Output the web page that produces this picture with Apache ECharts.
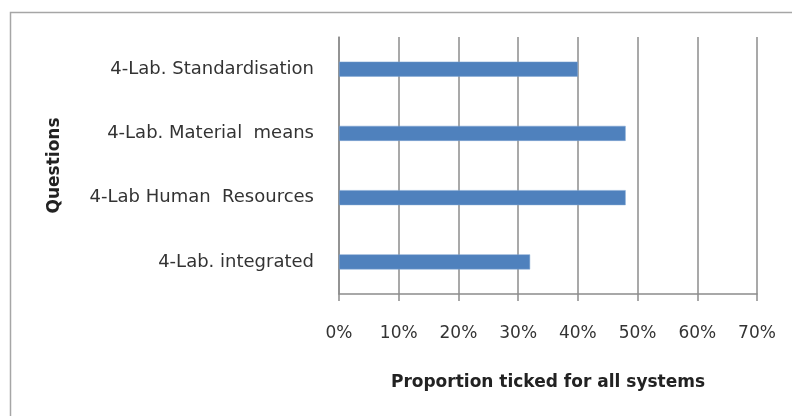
<!DOCTYPE html>
<html>
<head>
<meta charset="utf-8">
<script src="https://cdn.jsdelivr.net/npm/echarts@6/dist/echarts.min.js"></script>
<style>
  html, body { margin: 0; padding: 0; background: #fff; }
  #chart { width: 792px; height: 416px; }
</style>
</head>
<body>
<div id="chart"></div>
<script>
// categories bottom -> top (echarts category y-axis starts at bottom)
var questions = ['4-Lab. integrated', '4-Lab Human  Resources', '4-Lab. Material  means', '4-Lab. Standardisation'];
var proportion = [0.32, 0.48, 0.48, 0.40];
var xTicks = [0, 0.1, 0.2, 0.3, 0.4, 0.5, 0.6, 0.7];

var font = 'DejaVu Sans, sans-serif';
var myChart = echarts.init(document.getElementById('chart'));
var option = {
  animation: false,
  backgroundColor: '#fff',
  graphic: [{
    type: 'rect',
    shape: { x: 10.5, y: 12.5, width: 800, height: 420 },
    style: { fill: 'none', stroke: '#a6a6a6', lineWidth: 1.5 },
    silent: true
  }],
  grid: { left: 339, right: 35, top: 37, bottom: 122 },
  xAxis: {
    type: 'value',
    min: xTicks[0],
    max: xTicks[xTicks.length - 1],
    interval: 0.1,
    name: 'Proportion ticked for all systems',
    nameLocation: 'middle',
    nameGap: 80,
    nameTextStyle: { fontFamily: font, fontSize: 17, fontWeight: 'bold', color: '#222' },
    axisLine: { show: true, lineStyle: { color: '#8c8c8c', width: 1.5 } },
    axisTick: { show: true, length: 7, lineStyle: { color: '#8c8c8c', width: 1.5 } },
    axisLabel: {
      margin: 31,
      fontFamily: font, fontSize: 17, color: '#333',
      formatter: function (v) { return Math.round(v * 100) + '%' }
    },
    splitLine: { show: true, lineStyle: { color: '#8c8c8c', width: 1.5 } }
  },
  yAxis: {
    type: 'category',
    data: questions,
    name: 'Questions',
    nameLocation: 'middle',
    nameRotate: 90,
    nameGap: 276,
    nameTextStyle: { fontFamily: font, fontSize: 17, fontWeight: 'bold', color: '#222' },
    axisLine: { show: true, lineStyle: { color: '#8c8c8c', width: 1.5 } },
    axisTick: { show: false },
    axisLabel: { margin: 25, fontFamily: font, fontSize: 18, color: '#333' }
  },
  series: [{
    type: 'bar',
    data: proportion,
    barWidth: 15,
    itemStyle: { color: '#4f81bd', borderColor: '#7fa4d3', borderWidth: 0.5 }
  }]
};
myChart.setOption(option);
</script>
</body>
</html>
